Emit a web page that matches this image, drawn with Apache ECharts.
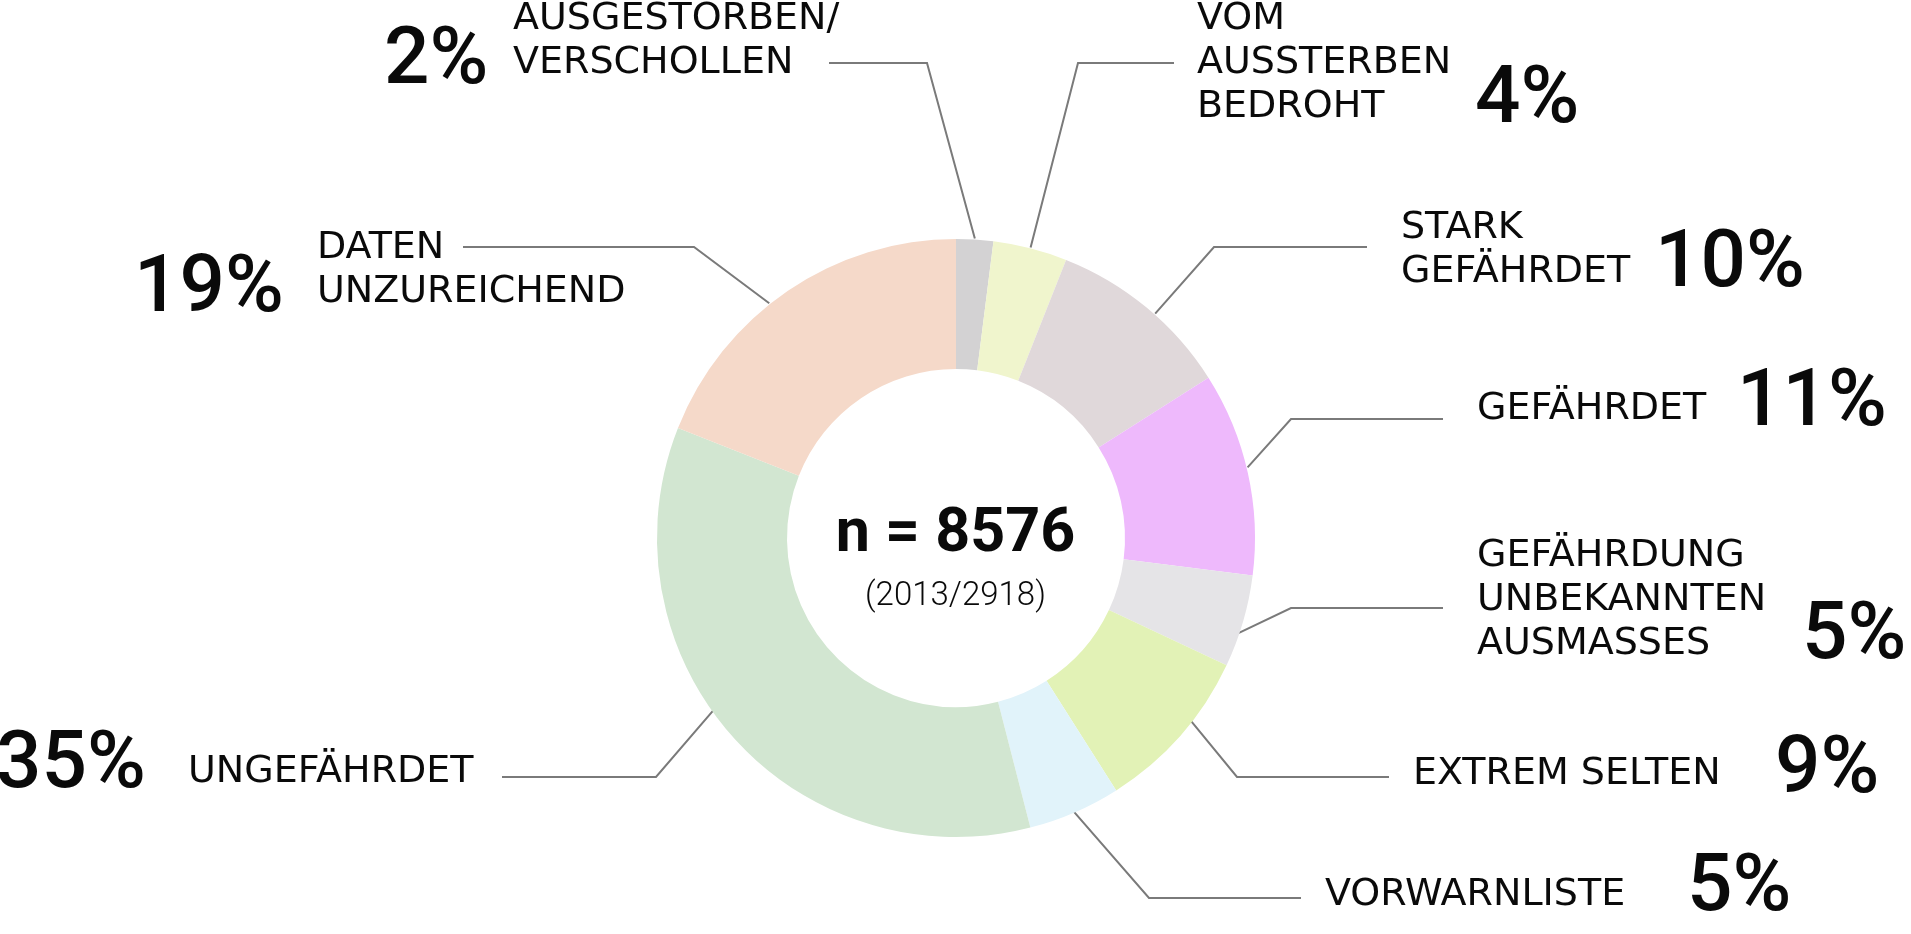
<!DOCTYPE html>
<html><head><meta charset="utf-8">
<script src="https://cdn.jsdelivr.net/npm/echarts@6/dist/echarts.min.js"></script>
<style>html,body{margin:0;padding:0;background:#fff}#c{width:1911px;height:934px}</style>
</head><body><div id="c"></div>
<script>
// ---- data ----
const categories = ['AUSGESTORBEN/\nVERSCHOLLEN', 'VOM\nAUSSTERBEN\nBEDROHT', 'STARK\nGEFÄHRDET', 'GEFÄHRDET',
  'GEFÄHRDUNG\nUNBEKANNTEN\nAUSMASSES', 'EXTREM SELTEN', 'VORWARNLISTE', 'UNGEFÄHRDET', 'DATEN\nUNZUREICHEND'];
const shares = [2, 4, 10, 11, 5, 9, 5, 35, 19];
const totalLabel = 'n = 8576';
const subLabel = '(2013/2918)';

// ---- styles / layout ----
const colors = ['#d3d2d3', '#f0f5cd', '#e0d8da', '#eeb9fc', '#e5e4e7', '#e2f2b6', '#e1f3fa', '#d2e6d1', '#f5d9c9'];
const namePos = [[513, 41.5], [1197, 63], [1401, 250.5], [1477, 409.5], [1477, 600], [1413, 774], [1325, 895.5], [188, 772.5], [317, 270]];
const pctPos = [[384, 63], [1475, 102], [1655, 266], [1737, 405], [1802, 638], [1775, 771.5], [1687, 889.5], [-4, 767], [134, 291]];
const bends = [[[927, 63], [829, 63]], [[1078, 63], [1174, 63]], [[1214, 247], [1367, 247]], [[1291, 419], [1443, 419]],
  [[1291, 608], [1443, 608]], [[1237, 777], [1389, 777]], [[1149, 898], [1301, 898]], [[656, 777], [502, 777]], [[694, 247], [463, 247]]];
// leader start: angular offset from slice middle (deg) and radius
const startShift = [0, 0, 2, -1, 2.4, -3.5, 1, 6, -4.3];
const startRadius = [300, 300, 300, 300, 298, 298, 284, 298, 300];
const CX = 956, CY = 538, R0 = 169, R1 = 299;

const chart = echarts.init(document.getElementById('c'), null, { renderer: 'canvas' });
const pieData = categories.map((n, i) => ({ name: n, value: shares[i], itemStyle: { color: colors[i] } }));

function startPoint(i) {
  let cum = 0;
  for (let k = 0; k < i; k++) cum += shares[k];
  const total = shares.reduce((a, b) => a + b, 0);
  const a = (cum + shares[i] / 2) / total * 2 * Math.PI + startShift[i] * Math.PI / 180;
  return [CX + startRadius[i] * Math.sin(a), CY - startRadius[i] * Math.cos(a)];
}

chart.setOption({
  animation: false,
  title: [
    { text: totalLabel, left: 'center', top: 504, padding: 0,
      textStyle: { fontFamily: 'Roboto', fontWeight: 'bold', fontSize: 61, lineHeight: 64, color: '#0a0a0a' } },
    { text: subLabel, left: 'center', top: 579, padding: 0,
      textStyle: { fontFamily: 'Roboto', fontWeight: 300, fontSize: 33, lineHeight: 36, color: '#0a0a0a' } }
  ],
  series: [
    {
      type: 'pie', name: 'names', center: [CX, CY], radius: [R0, R1], startAngle: 90, clockwise: true,
      avoidLabelOverlap: false, silent: true,
      data: pieData,
      label: { show: true, position: 'outside', formatter: p => p.name, fontFamily: 'DejaVu Sans', fontSize: 38,
        lineHeight: 44, color: '#0a0a0a', overflow: 'none' },
      labelLine: { show: true, length: 10, length2: 10, lineStyle: { color: '#7a7a7a', width: 2 } },
      labelLayout: function (params) {
        const i = params.dataIndex;
        return { x: namePos[i][0], y: namePos[i][1], align: 'left', verticalAlign: 'middle',
          labelLinePoints: [startPoint(i), bends[i][0], bends[i][1]] };
      }
    },
    {
      type: 'pie', name: 'shares', center: [CX, CY], radius: [R0, R1], startAngle: 90, clockwise: true,
      avoidLabelOverlap: false, silent: true, z: 1,
      data: categories.map((n, i) => ({ name: n, value: shares[i], itemStyle: { color: 'rgba(0,0,0,0)' } })),
      label: { show: true, position: 'outside', formatter: p => p.value + '%', fontFamily: 'Roboto', fontWeight: 500,
        fontSize: 80, lineHeight: 80, color: '#0a0a0a', overflow: 'none' },
      labelLine: { show: false },
      labelLayout: function (params) {
        const i = params.dataIndex;
        return { x: pctPos[i][0], y: pctPos[i][1], align: 'left', verticalAlign: 'middle' };
      }
    }
  ]
});
</script></body></html>
